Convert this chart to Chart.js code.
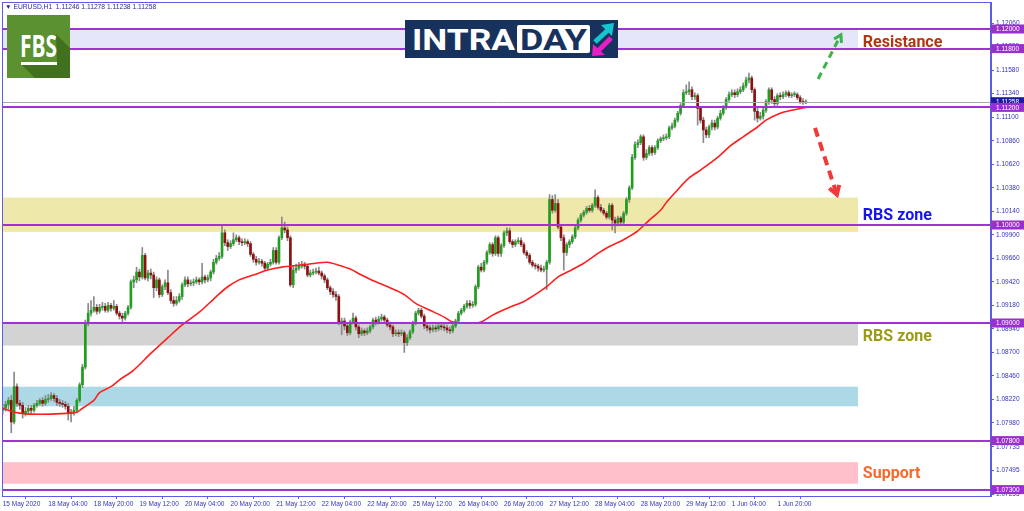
<!DOCTYPE html>
<html><head><meta charset="utf-8">
<script src="https://cdn.jsdelivr.net/npm/chart.js@4.4.0/dist/chart.umd.min.js"></script>
<style>
html,body{margin:0;padding:0;background:#fff;overflow:hidden;}
#wrap{position:relative;width:1024px;height:511px;}
canvas{position:absolute;left:0;top:0;}
#hdr{position:absolute;left:5px;top:2px;font:6.7px 'Liberation Sans','DejaVu Sans',sans-serif;color:#2b2b8f;white-space:pre;line-height:9px;}
#fbs{position:absolute;left:7px;top:15px;}
#intra{position:absolute;left:405px;top:20px;}
</style></head><body>
<div id="wrap">
<canvas id="c" width="1024" height="511"></canvas>
<div id="hdr">▼ EURUSD,H1  1.11246 1.11278 1.11238 1.11258</div>
<svg id="fbs" width="63" height="63" viewBox="0 0 63 63">
<rect width="63" height="63" fill="#5b9130"/>
<polygon points="49,19 63,33 63,63 28,63 14,49 50,49" fill="#41701f"/>
<text x="13" y="42" font-family="Open Sans" font-weight="700" font-size="30" fill="#fff" textLength="37" lengthAdjust="spacingAndGlyphs">FBS</text>
<rect x="14" y="47" width="36" height="3" fill="#fff"/>
</svg>
<svg id="intra" width="213" height="38" viewBox="0 0 213 38">
<rect width="213" height="38" fill="#17325c"/>
<text x="7" y="30" font-family="Roboto" font-weight="700" font-size="30" fill="#fff" textLength="103" lengthAdjust="spacingAndGlyphs">INTRA</text>
<rect x="112" y="5" width="73" height="28" rx="2" fill="#fff"/>
<text x="115" y="30" font-family="Roboto" font-weight="700" font-size="30" fill="#17325c" textLength="67" lengthAdjust="spacingAndGlyphs">DAY</text>
<line x1="190" y1="22" x2="203" y2="10" stroke="#14c6cf" stroke-width="5"/>
<polygon points="196,5 209,3 207,16" fill="#14c6cf"/>
<line x1="206" y1="18" x2="194" y2="30" stroke="#e61fc6" stroke-width="5"/>
<polygon points="188,24 187,36 200,35" fill="#e61fc6"/>
</svg>
</div>
<script>
// ---------- DATA ----------
const opens = [
1.0811,1.0813,1.0817,1.0821,1.0799,1.0835,1.0818,1.0816,1.0808,1.0810,
1.0813,1.0811,1.0816,1.0818,1.0821,1.0818,1.0822,1.0823,1.0826,1.0823,
1.0819,1.0818,1.0817,1.0815,1.0808,1.0809,1.0811,1.0821,1.0837,1.0855,
1.0900,1.0910,1.0913,1.0916,1.0912,1.0916,1.0917,1.0913,1.0918,1.0915,
1.0917,1.0910,1.0907,1.0905,1.0910,1.0916,1.0942,1.0944,1.0952,1.0947,
1.0969,1.0946,1.0951,1.0949,1.0936,1.0944,1.0929,1.0937,1.0941,1.0931,
1.0923,1.0920,1.0923,1.0927,1.0939,1.0944,1.0940,1.0941,1.0942,1.0944,
1.0942,1.0947,1.0944,1.0946,1.0952,1.0962,1.0966,1.0968,1.0992,1.0982,
1.0978,1.0981,1.0985,1.0987,1.0983,1.0982,1.0983,1.0981,1.0970,1.0965,
1.0962,1.0963,1.0961,1.0956,1.0960,1.0962,1.0974,1.0962,1.0987,1.0997,
1.0995,1.0987,1.0939,1.0954,1.0956,1.0958,1.0960,1.0958,1.0949,1.0951,
1.0952,1.0953,1.0951,1.0948,1.0944,1.0936,1.0932,1.0929,1.0927,1.0900,
1.0902,1.0897,1.0890,1.0901,1.0905,1.0896,1.0889,1.0892,1.0890,1.0892,
1.0896,1.0903,1.0901,1.0904,1.0906,1.0903,1.0898,1.0896,1.0889,1.0890,
1.0889,1.0890,1.0880,1.0885,1.0891,1.0900,1.0910,1.0913,1.0907,1.0897,
1.0895,1.0893,1.0895,1.0894,1.0897,1.0896,1.0895,1.0893,1.0892,1.0897,
1.0902,1.0910,1.0913,1.0917,1.0920,1.0918,1.0919,1.0937,1.0957,1.0954,
1.0962,1.0972,1.0980,1.0971,1.0987,1.0971,1.0979,1.0992,1.0994,1.0983,
1.0980,1.0983,1.0984,1.0980,1.0972,1.0969,1.0962,1.0959,1.0958,1.0956,
1.0954,1.0955,1.0962,1.1026,1.1015,1.1022,1.0998,1.0987,1.0972,1.0980,
1.0983,1.0988,1.0997,1.1005,1.1010,1.1013,1.1017,1.1015,1.1020,1.1028,
1.1018,1.1015,1.1012,1.1008,1.1020,1.1005,1.1002,1.1007,1.1003,1.1012,
1.1026,1.1038,1.1069,1.1082,1.1084,1.1090,1.1069,1.1073,1.1079,1.1074,
1.1079,1.1086,1.1088,1.1089,1.1090,1.1099,1.1101,1.1107,1.1114,1.1122,
1.1135,1.1136,1.1138,1.1131,1.1132,1.1119,1.1107,1.1097,1.1092,1.1100,
1.1104,1.1100,1.1109,1.1114,1.1120,1.1128,1.1133,1.1135,1.1133,1.1136,
1.1138,1.1142,1.1148,1.1150,1.1138,1.1116,1.1109,1.1111,1.1117,1.1126,
1.1138,1.1128,1.1124,1.1132,1.1131,1.1133,1.1135,1.1132,1.1133,1.1133,
1.1130,1.1126,1.11246];
const closes = [
1.0813,1.0817,1.0821,1.0799,1.0835,1.0818,1.0816,1.0808,1.0810,1.0813,
1.0811,1.0816,1.0818,1.0821,1.0818,1.0822,1.0823,1.0826,1.0823,1.0819,
1.0818,1.0817,1.0815,1.0808,1.0809,1.0811,1.0821,1.0837,1.0855,1.0900,
1.0910,1.0913,1.0916,1.0912,1.0916,1.0917,1.0913,1.0918,1.0915,1.0917,
1.0910,1.0907,1.0905,1.0910,1.0916,1.0942,1.0944,1.0952,1.0947,1.0969,
1.0946,1.0951,1.0949,1.0936,1.0944,1.0929,1.0937,1.0941,1.0931,1.0923,
1.0920,1.0923,1.0927,1.0939,1.0944,1.0940,1.0941,1.0942,1.0944,1.0942,
1.0947,1.0944,1.0946,1.0952,1.0962,1.0966,1.0968,1.0992,1.0982,1.0978,
1.0981,1.0985,1.0987,1.0983,1.0982,1.0983,1.0981,1.0970,1.0965,1.0962,
1.0963,1.0961,1.0956,1.0960,1.0962,1.0974,1.0962,1.0987,1.0997,1.0995,
1.0987,1.0939,1.0954,1.0956,1.0958,1.0960,1.0958,1.0949,1.0951,1.0952,
1.0953,1.0951,1.0948,1.0944,1.0936,1.0932,1.0929,1.0927,1.0900,1.0902,
1.0897,1.0890,1.0901,1.0905,1.0896,1.0889,1.0892,1.0890,1.0892,1.0896,
1.0903,1.0901,1.0904,1.0906,1.0903,1.0898,1.0896,1.0889,1.0890,1.0889,
1.0890,1.0880,1.0885,1.0891,1.0900,1.0910,1.0913,1.0907,1.0897,1.0895,
1.0893,1.0895,1.0894,1.0897,1.0896,1.0895,1.0893,1.0892,1.0897,1.0902,
1.0910,1.0913,1.0917,1.0920,1.0918,1.0919,1.0937,1.0957,1.0954,1.0962,
1.0972,1.0980,1.0971,1.0987,1.0971,1.0979,1.0992,1.0994,1.0983,1.0980,
1.0983,1.0984,1.0980,1.0972,1.0969,1.0962,1.0959,1.0958,1.0956,1.0954,
1.0955,1.0962,1.1026,1.1015,1.1022,1.0998,1.0987,1.0972,1.0980,1.0983,
1.0988,1.0997,1.1005,1.1010,1.1013,1.1017,1.1015,1.1020,1.1028,1.1018,
1.1015,1.1012,1.1008,1.1020,1.1005,1.1002,1.1007,1.1003,1.1012,1.1026,
1.1038,1.1069,1.1082,1.1084,1.1090,1.1069,1.1073,1.1079,1.1074,1.1079,
1.1086,1.1088,1.1089,1.1090,1.1099,1.1101,1.1107,1.1114,1.1122,1.1135,
1.1136,1.1138,1.1131,1.1132,1.1119,1.1107,1.1097,1.1092,1.1100,1.1104,
1.1100,1.1109,1.1114,1.1120,1.1128,1.1133,1.1135,1.1133,1.1136,1.1138,
1.1142,1.1148,1.1150,1.1138,1.1116,1.1109,1.1111,1.1117,1.1126,1.1138,
1.1128,1.1124,1.1132,1.1131,1.1133,1.1135,1.1132,1.1133,1.1133,1.1130,
1.1126,1.1125,1.11258];
const highs = [
1.0817,1.0820,1.0824,1.0826,1.0850,1.0838,1.0821,1.0819,1.0814,1.0816,
1.0816,1.0818,1.0821,1.0823,1.0824,1.0826,1.0827,1.0829,1.0828,1.0826,
1.0822,1.0821,1.0820,1.0818,1.0812,1.0815,1.0823,1.0839,1.0858,1.0903,
1.0920,1.0923,1.0927,1.0919,1.0919,1.0921,1.0920,1.0921,1.0920,1.0923,
1.0919,1.0912,1.0910,1.0912,1.0918,1.0944,1.0948,1.0957,1.0955,1.0977,
1.0971,1.0954,1.0955,1.0952,1.0947,1.0946,1.0939,1.0944,1.0954,1.0934,
1.0927,1.0927,1.0930,1.0941,1.0947,1.0947,1.0944,1.0945,1.0947,1.0946,
1.0961,1.0949,1.0949,1.0954,1.0965,1.0969,1.0972,1.1000,1.0995,1.0985,
1.0984,1.0992,1.0990,1.0989,1.0986,1.0986,1.0985,1.0983,1.0972,1.0968,
1.0966,1.0965,1.0963,1.0962,1.0965,1.0977,1.0977,1.0989,1.1008,1.1003,
1.0998,1.0989,1.0958,1.0960,1.0962,1.0963,1.0962,1.0960,1.0954,1.0955,
1.0956,1.0957,1.0953,1.0950,1.0946,1.0938,1.0935,1.0932,1.0929,1.0905,
1.0905,1.0899,1.0903,1.0910,1.0907,1.0898,1.0895,1.0894,1.0895,1.0898,
1.0905,1.0906,1.0907,1.0909,1.0908,1.0905,1.0901,1.0898,1.0893,1.0893,
1.0893,1.0892,1.0888,1.0893,1.0902,1.0912,1.0915,1.0915,1.0909,1.0900,
1.0898,1.0898,1.0898,1.0900,1.0900,1.0899,1.0898,1.0896,1.0899,1.0904,
1.0912,1.0915,1.0919,1.0923,1.0923,1.0922,1.0939,1.0959,1.0961,1.0964,
1.0974,1.0982,1.0982,1.0989,1.0989,1.0981,1.0994,1.0997,1.0997,1.0985,
1.0985,1.0987,1.0987,1.0982,1.0974,1.0971,1.0964,1.0961,1.0960,1.0959,
1.0958,1.0964,1.1031,1.1030,1.1031,1.1026,1.1000,1.0990,1.0982,1.0985,
1.0990,1.0999,1.1007,1.1012,1.1015,1.1019,1.1020,1.1022,1.1036,1.1030,
1.1021,1.1017,1.1014,1.1022,1.1022,1.1008,1.1009,1.1009,1.1014,1.1028,
1.1040,1.1072,1.1085,1.1087,1.1092,1.1092,1.1077,1.1081,1.1081,1.1081,
1.1088,1.1090,1.1092,1.1093,1.1101,1.1104,1.1109,1.1116,1.1124,1.1138,
1.1143,1.1146,1.1141,1.1135,1.1134,1.1121,1.1110,1.1100,1.1102,1.1107,
1.1107,1.1111,1.1117,1.1122,1.1130,1.1136,1.1138,1.1138,1.1139,1.1141,
1.1145,1.1151,1.1155,1.1152,1.1140,1.1119,1.1115,1.1119,1.1128,1.1140,
1.1140,1.1131,1.1134,1.1135,1.1136,1.1137,1.1137,1.1135,1.1136,1.1135,
1.1132,1.1129,1.11278];
const lows = [
1.0807,1.0810,1.0812,1.0788,1.0797,1.0815,1.0812,1.0803,1.0805,1.0807,
1.0808,1.0809,1.0814,1.0816,1.0815,1.0816,1.0819,1.0821,1.0820,1.0816,
1.0815,1.0814,1.0812,1.0801,1.0799,1.0806,1.0809,1.0819,1.0834,1.0853,
1.0897,1.0907,1.0911,1.0909,1.0910,1.0913,1.0911,1.0911,1.0912,1.0913,
1.0908,1.0904,1.0901,1.0903,1.0908,1.0914,1.0936,1.0941,1.0943,1.0945,
1.0944,1.0943,1.0945,1.0926,1.0933,1.0926,1.0927,1.0934,1.0929,1.0920,
1.0917,1.0918,1.0921,1.0924,1.0937,1.0937,1.0938,1.0938,1.0940,1.0939,
1.0940,1.0941,1.0942,1.0943,1.0950,1.0960,1.0964,1.0966,1.0979,1.0974,
1.0976,1.0979,1.0983,1.0980,1.0979,1.0980,1.0978,1.0968,1.0962,1.0959,
1.0960,1.0958,1.0954,1.0954,1.0958,1.0960,1.0960,1.0960,1.0985,1.0992,
1.0984,1.0937,1.0936,1.0951,1.0954,1.0956,1.0955,1.0947,1.0947,1.0949,
1.0950,1.0949,1.0945,1.0941,1.0934,1.0929,1.0926,1.0923,1.0898,1.0888,
1.0893,1.0887,1.0888,1.0899,1.0893,1.0885,1.0887,1.0887,1.0888,1.0890,
1.0894,1.0898,1.0899,1.0902,1.0900,1.0896,1.0893,1.0886,1.0887,1.0886,
1.0887,1.0870,1.0877,1.0883,1.0889,1.0898,1.0908,1.0905,1.0894,1.0892,
1.0890,1.0891,1.0891,1.0892,1.0893,1.0892,1.0890,1.0889,1.0890,1.0895,
1.0900,1.0908,1.0911,1.0915,1.0915,1.0916,1.0917,1.0935,1.0952,1.0952,
1.0960,1.0970,1.0968,1.0969,1.0968,1.0968,1.0977,1.0989,1.0981,1.0977,
1.0978,1.0981,1.0978,1.0970,1.0966,1.0960,1.0957,1.0955,1.0953,1.0952,
1.0952,1.0934,1.0960,1.1012,1.1013,1.0996,1.0984,1.0954,1.0969,1.0977,
1.0981,1.0986,1.0995,1.1003,1.1008,1.1011,1.1013,1.1013,1.1018,1.1016,
1.1013,1.1010,1.1006,1.1006,1.0995,1.0992,1.0999,1.1000,1.1000,1.1010,
1.1023,1.1036,1.1067,1.1079,1.1082,1.1066,1.1067,1.1071,1.1071,1.1072,
1.1077,1.1084,1.1086,1.1087,1.1088,1.1097,1.1099,1.1105,1.1112,1.1120,
1.1133,1.1133,1.1128,1.1128,1.1102,1.1104,1.1084,1.1089,1.1089,1.1097,
1.1097,1.1098,1.1107,1.1112,1.1118,1.1126,1.1131,1.1130,1.1131,1.1134,
1.1136,1.1140,1.1145,1.1135,1.1107,1.1105,1.1107,1.1108,1.1115,1.1123,
1.1124,1.1121,1.1122,1.1128,1.1129,1.1131,1.1130,1.1130,1.1131,1.1128,
1.1124,1.1123,1.11238];

// moving average (red line) read at sample bars
const maIdx = [0,3,6,10,17,24,26,28,32,34,38,41,46,52,58,63,69,75,79,83,
88,93,98,104,110,114,118,122,126,131,136,141,145,150,155,158,162,166,168,172,
178,183,188,191,195,199,204,209,213,218,223,227,231,233,237,241,245,251,256,260,
265,268,273,277,282];
const maVal = [1.0813,1.0810,1.0808,1.0807,1.0807,1.0808,1.0809,1.0813,1.0821,1.0829,
1.0835,1.0842,1.0852,1.0869,1.0885,1.0898,1.0911,1.0927,1.0937,1.0944,
1.0949,1.0954,1.0957,1.0959,1.0961,1.0962,1.0959,1.0955,1.0949,1.0942,
1.0936,1.0929,1.0920,1.0913,1.0906,1.0901,1.0900,1.0900,1.0901,1.0908,
1.0916,1.0922,1.0931,1.0937,1.0947,1.0953,1.0961,1.0971,1.0978,1.0985,
1.0994,1.1005,1.1015,1.1023,1.1036,1.1048,1.1056,1.1069,1.1082,1.1090,
1.1100,1.1107,1.1114,1.1117,1.1120];

const xTickIdx = [0,16,32,48,64,80,96,112,128,144,160,176,192,208,224,240,256,272];
const xTickLabels = ['15 May 2020','18 May 04:00','18 May 20:00','19 May 12:00','20 May 04:00','20 May 20:00',
'21 May 12:00','22 May 04:00','22 May 20:00','25 May 12:00','26 May 04:00','26 May 20:00','27 May 12:00',
'28 May 04:00','28 May 20:00','29 May 12:00','1 Jun 04:00','1 Jun 20:00'];
const yTicks = [1.12060,1.11820,1.11580,1.11340,1.11100,1.10860,1.10620,1.10380,1.10140,1.09900,1.09660,
1.09420,1.09180,1.08940,1.08700,1.08460,1.08220,1.07980,1.07735,1.07495,1.07255];

const levels = [1.12000,1.11800,1.11200,1.10000,1.09000,1.07800,1.07300];
const currentPrice = 1.11258;

const zoneTop    = [1.1200,1.1028,1.0900,1.0835,1.0758];
const zoneBottom = [1.1180,1.0993,1.0877,1.0815,1.0736];
const zoneColors = ['#e6e6fa','#eee8aa','#d3d3d3','#add8e6','#ffc0cb'];
const zoneEndIdx = 300.3;

const labelTexts  = ['Resistance','RBS zone','RBS zone','Support'];
const labelPrices = [1.1187,1.1010,1.0887,1.0747];
const labelColors = ['#b4350e','#1414f0','#9c9c14','#f86a2c'];
const labelIdx = 302;

const arrowFromIdx = [286.3,285.2], arrowFromPrice = [1.1149,1.1099];
const arrowToIdx   = [294.3,292.9], arrowToPrice   = [1.1194,1.1031];
const arrowColors  = ['#3bb54a','#f03a3a'];

// ---------- CHART ----------
const AX = '#5c5ce6', TXT = '#3434c0';
const bodyData = opens.map((o,i)=>({x:i, y:[o, closes[i]]}));
const wickData = highs.map((h,i)=>({x:i, y:[lows[i], h]}));
const bodyColors = opens.map((o,i)=> closes[i] >= o ? '#1f9e1f' : '#8e1111');
const maData = maIdx.map((k,j)=>({x:k, y:maVal[j]}));

function arrow(ctx,x1,y1,x2,y2,color,w,dash,head){
  ctx.save(); ctx.strokeStyle=color; ctx.lineWidth=w; ctx.setLineDash(dash);
  ctx.beginPath(); ctx.moveTo(x1,y1); ctx.lineTo(x2,y2); ctx.stroke();
  ctx.setLineDash([]);
  const a=Math.atan2(y2-y1,x2-x1);
  ctx.beginPath();
  ctx.moveTo(x2-head*Math.cos(a-0.55), y2-head*Math.sin(a-0.55));
  ctx.lineTo(x2,y2);
  ctx.lineTo(x2-head*Math.cos(a+0.55), y2-head*Math.sin(a+0.55));
  ctx.stroke(); ctx.restore();
}

const overlay = {
  id:'overlay',
  beforeDatasetsDraw(chart){
    const {ctx, scales:{x,y}, chartArea:a} = chart;
    ctx.save();
    const xr = x.getPixelForValue(zoneEndIdx);
    zoneTop.forEach((t,i)=>{
      const y1=y.getPixelForValue(t), y2=y.getPixelForValue(zoneBottom[i]);
      ctx.fillStyle=zoneColors[i];
      ctx.fillRect(a.left, y1, xr-a.left, y2-y1);
    });
    ctx.restore();
  },
  afterDatasetsDraw(chart){
    const {ctx, scales:{y}, chartArea:a} = chart;
    ctx.save();
    ctx.strokeStyle='#a8a8a8'; ctx.lineWidth=1;
    let py=Math.round(y.getPixelForValue(currentPrice))+0.5;
    ctx.beginPath(); ctx.moveTo(a.left,py); ctx.lineTo(a.right,py); ctx.stroke();
    ctx.strokeStyle='#a032d4'; ctx.lineWidth=2;
    levels.forEach(v=>{
      const p=Math.round(y.getPixelForValue(v));
      ctx.beginPath(); ctx.moveTo(a.left,p); ctx.lineTo(a.right,p); ctx.stroke();
    });
    ctx.restore();
  },
  afterDraw(chart){
    const {ctx, scales:{x,y}, chartArea:a} = chart;
    ctx.save();
    ctx.strokeStyle=AX; ctx.lineWidth=1;
    ctx.strokeRect(a.left+0.5, a.top+0.5, a.right-a.left-1, a.bottom-a.top);
    ctx.font='6.5px "Liberation Sans"'; ctx.textBaseline='middle'; ctx.textAlign='left';
    const box=(v,col)=>{
      const p=y.getPixelForValue(v);
      ctx.fillStyle=col; ctx.fillRect(a.right, p-4.5, 1024-a.right, 9);
      ctx.fillStyle='#fff'; ctx.fillText(v.toFixed(5), a.right+5, p+0.5);
    };
    box(currentPrice,'#1a1aa0');
    levels.forEach(v=>box(v,'#9a2fd0'));
    ctx.font='bold 16px Roboto';
    labelTexts.forEach((t,i)=>{
      ctx.fillStyle=labelColors[i];
      ctx.fillText(t, x.getPixelForValue(labelIdx), y.getPixelForValue(labelPrices[i])+1);
    });
    arrow(ctx, x.getPixelForValue(arrowFromIdx[0]), y.getPixelForValue(arrowFromPrice[0]),
      x.getPixelForValue(arrowToIdx[0]), y.getPixelForValue(arrowToPrice[0]), arrowColors[0], 3, [7,5], 8);
    arrow(ctx, x.getPixelForValue(arrowFromIdx[1]), y.getPixelForValue(arrowFromPrice[1]),
      x.getPixelForValue(arrowToIdx[1]), y.getPixelForValue(arrowToPrice[1]), arrowColors[1], 4, [9,6], 10);
    ctx.restore();
  }
};

new Chart(document.getElementById('c'), {
  data:{ datasets:[
    {type:'bar', data:wickData, backgroundColor:'#8a8a8a', barThickness:1, grouped:false, order:2},
    {type:'bar', data:bodyData, backgroundColor:bodyColors, barThickness:2, grouped:false, minBarLength:1, order:1},
    {type:'line', data:maData, borderColor:'#ff1e1e', borderWidth:1.6, pointRadius:0, tension:0.3, order:0}
  ]},
  options:{
    responsive:false, animation:false, events:[],
    layout:{padding:{left:2, top:2, right:0, bottom:0}},
    plugins:{legend:{display:false}, tooltip:{enabled:false}},
    scales:{
      x:{type:'linear', min:-0.256, max:347.0, offset:false,
        afterFit(s){ s.height=15; s.paddingLeft=0; s.paddingRight=0; },
        afterBuildTicks(s){ s.ticks = xTickIdx.map(v=>({value:v})); },
        ticks:{callback:(v,i)=>xTickLabels[i], align:'start', maxRotation:0, minRotation:0, autoSkip:false,
          padding:1, color:TXT, font:{family:'Liberation Sans', size:6.5}},
        grid:{drawOnChartArea:false, tickLength:3, color:AX},
        border:{color:AX}
      },
      y:{position:'right', min:1.072347, max:1.122755,
        afterFit(s){ s.width=33; s.paddingTop=0; s.paddingBottom=0; },
        afterBuildTicks(s){ s.ticks = yTicks.map(v=>({value:v})); },
        ticks:{callback:v=>v.toFixed(5), autoSkip:false, padding:2, color:TXT, font:{family:'Liberation Sans', size:6.5}},
        grid:{drawOnChartArea:false, tickLength:3, color:AX},
        border:{color:AX}
      }
    }
  },
  plugins:[overlay]
});
</script>
</body></html>
